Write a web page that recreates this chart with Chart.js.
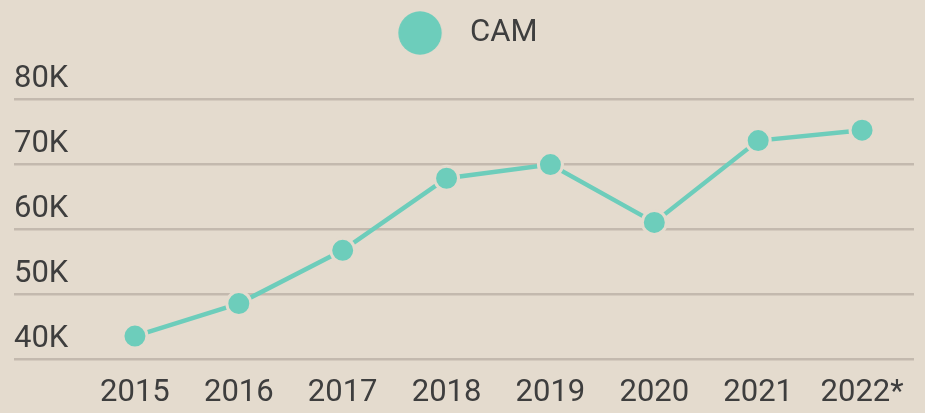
<!DOCTYPE html>
<html>
<head>
<meta charset="utf-8">
<script src="https://cdn.jsdelivr.net/npm/chart.js@4"></script>
<style>
  html, body { margin: 0; padding: 0; background: #e4dbce; }
  #wrap { width: 925px; height: 413px; position: relative; }
</style>
</head>
<body>
<div id="wrap"><canvas id="c"></canvas></div>
<script>
const categories = ['2015', '2016', '2017', '2018', '2019', '2020', '2021', '2022*'];
const seriesName = 'CAM';
const camValues = [43500, 48500, 56700, 67800, 69900, 61000, 73600, 75200];
const yTickValues = [40000, 50000, 60000, 70000, 80000];
const yTickLabels = ['40K', '50K', '60K', '70K', '80K'];

const BG = '#e4dbce';
const TEAL = '#6dcdbb';
const GRID = '#c3b9ae';
const TEXT = '#3e3e3e';
const FONT = 'Roboto';
const FS = 31;

const padL = 14, padR = 11, padT = 0, padB = -15;
const legendPad = 17.5, legendExtra = 40.5;

// legend marker: circle drawn into a small canvas, offset to match spacing
const mctx = document.createElement('canvas').getContext('2d');
mctx.font = FS + 'px ' + FONT;
const textW = mctx.measureText(seriesName).width;
const legendCenter = (padL + 925 - padR) / 2;
const targetTextX = 470, targetCircleX = 420, R = 21.7;
const boxW = 2 * (targetTextX - legendCenter) - FS / 2 + textW;
const naturalCircleX = legendCenter - (FS / 2 + textW) / 2;
const off = targetCircleX - naturalCircleX;
const mw = Math.ceil(2 * (R + Math.abs(off)) + 4), mh = Math.ceil(2 * R + 4);
const marker = document.createElement('canvas');
marker.width = mw; marker.height = mh;
const mk = marker.getContext('2d');
mk.fillStyle = TEAL;
mk.beginPath();
mk.arc(mw / 2 + off, mh / 2, R, 0, Math.PI * 2);
mk.fill();

// extra space below the legend
const legendSpacer = {
  id: 'legendSpacer',
  afterInit(chart) {
    const lg = chart.legend;
    if (!lg || lg._spaced) return;
    const orig = lg.fit;
    lg.fit = function () { orig.call(this); this.height += legendExtra; };
    lg._spaced = true;
  }
};

Chart.defaults.font.family = FONT;
Chart.defaults.color = TEXT;

new Chart(document.getElementById('c'), {
  type: 'line',
  data: {
    labels: categories,
    datasets: [{
      label: seriesName,
      data: camValues,
      borderColor: TEAL,
      backgroundColor: TEAL,
      borderWidth: 4.5,
      pointRadius: 12,
      pointHoverRadius: 12,
      pointBackgroundColor: TEAL,
      pointBorderColor: BG,
      pointBorderWidth: 3,
      tension: 0,
      fill: false,
      clip: false
    }]
  },
  plugins: [legendSpacer],
  options: {
    responsive: true,
    maintainAspectRatio: false,
    animation: false,
    events: [],
    layout: { autoPadding: false, padding: { left: padL, right: padR, top: padT, bottom: padB } },
    plugins: {
      tooltip: { enabled: false },
      legend: {
        display: true,
        position: 'top',
        labels: {
          usePointStyle: true,
          pointStyle: marker,
          pointStyleWidth: boxW,
          padding: legendPad,
          color: TEXT,
          font: { family: FONT, size: FS }
        }
      }
    },
    scales: {
      x: {
        offset: true,
        afterFit: (s) => { s.paddingLeft = 0; s.paddingRight = 0; },
        grid: { display: false, drawTicks: false },
        border: { display: false },
        ticks: {
          padding: 16,
          color: TEXT,
          font: { family: FONT, size: FS },
          maxRotation: 0,
          autoSkip: false
        }
      },
      y: {
        min: 40000,
        max: 80000,
        afterBuildTicks: (s) => { s.ticks = yTickValues.map(v => ({ value: v })); },
        afterFit: (s) => { s.width = 69; },
        grid: { color: GRID, lineWidth: 2.5, drawTicks: true, tickLength: 69, tickColor: GRID },
        border: { display: false },
        ticks: {
          crossAlign: 'far',
          labelOffset: -20,
          padding: 0,
          color: TEXT,
          font: { family: FONT, size: FS },
          callback: (v) => yTickLabels[yTickValues.indexOf(v)]
        }
      }
    }
  }
});
</script>
</body>
</html>
